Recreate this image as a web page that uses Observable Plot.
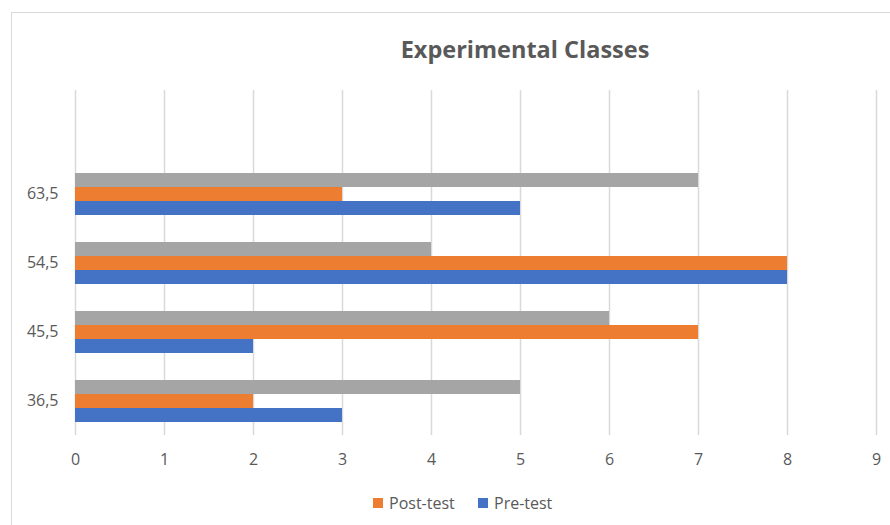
<!DOCTYPE html>
<html>
<head>
<meta charset="utf-8">
<script src="https://cdn.jsdelivr.net/npm/d3@7"></script>
<script src="https://cdn.jsdelivr.net/npm/@observablehq/plot@0.6"></script>
<style>
  html, body { margin: 0; padding: 0; background: #fff; }
  #wrap { position: relative; width: 890px; height: 525px; overflow: hidden; font-family: "Open Sans", sans-serif; }
  #frame { position: absolute; left: 11px; top: 12px; width: 1000px; height: 600px; border-left: 1.5px solid #d9d9d9; border-top: 1.5px solid #d9d9d9; box-sizing: border-box; }
  #title { position: absolute; top: 38px; left: 325px; width: 400px; text-align: center; font-size: 23.5px; line-height: 1; font-weight: bold; color: #595959; }
  #chart { position: absolute; left: 0; top: 0; }
  #legend { position: absolute; top: 493px; left: 0; width: 890px; height: 22px; font-size: 16px; color: #595959; }
  .item { position: absolute; top: 0; display: flex; align-items: center; line-height: 20px; }
  .sw { width: 10px; height: 10px; margin-right: 6px; }
</style>
</head>
<body>
<div id="wrap">
  <div id="frame"></div>
  <div id="chart"></div>
  <div id="title">Experimental Classes</div>
  <div id="legend"></div>
</div>
<script>
// Categories from top to bottom (first entry is an empty category row)
const categories = [" ", "63,5", "54,5", "45,5", "36,5"];
const dataCategories = ["63,5", "54,5", "45,5", "36,5"];
const seriesNames = ["Series3", "Post-test", "Pre-test"];
const seriesColors = ["#A5A5A5", "#ED7D31", "#4472C4"];
const series3 = [7, 4, 6, 5];
const postTest = [3, 8, 7, 2];
const preTest = [5, 8, 2, 3];
const xTicks = [0, 1, 2, 3, 4, 5, 6, 7, 8, 9];
const legendItems = ["Post-test", "Pre-test"];

const table = dataCategories.flatMap((c, i) => [
  {cat: c, series: "Series3", value: series3[i]},
  {cat: c, series: "Post-test", value: postTest[i]},
  {cat: c, series: "Pre-test", value: preTest[i]}
]);
// gridlines in every category row (including the empty top row)
const gridRows = categories.flatMap(c => xTicks.map(t => ({cat: c, x: t})));

const chart = Plot.plot({
  width: 890,
  height: 480,
  marginTop: 88,
  marginBottom: 43,
  marginLeft: 75,
  marginRight: 14,
  style: {fontFamily: "'Open Sans', sans-serif", fontSize: "16px", color: "#595959", background: "transparent"},
  x: {domain: [0, 9], axis: null, label: null},
  fy: {domain: categories, padding: 0, axis: null, label: null},
  y: {domain: seriesNames, paddingInner: 0, paddingOuter: 0.914, axis: null},
  color: {domain: seriesNames, range: seriesColors},
  marks: [
    Plot.ruleX(gridRows, {x: "x", fy: "cat", stroke: "#d9d9d9", strokeWidth: 1.5}),
    Plot.barX(table, {x: "value", y: "series", fy: "cat", fill: "series"}),
    Plot.axisX(xTicks, {tickSize: 0, tickPadding: 18, fill: "#595959", fontSize: 16, label: null}),
    Plot.axisFy({anchor: "left", tickSize: 0, tickPadding: 17, label: null, fill: "#595959", fontSize: 16})
  ]
});
document.getElementById("chart").appendChild(chart);

const legend = document.getElementById("legend");
const legendX = [373, 478];
legendItems.forEach((name, i) => {
  const it = document.createElement("div");
  it.className = "item";
  it.style.left = legendX[i] + "px";
  const sw = document.createElement("div");
  sw.className = "sw";
  sw.style.background = seriesColors[seriesNames.indexOf(name)];
  const t = document.createElement("span");
  t.textContent = name;
  it.appendChild(sw);
  it.appendChild(t);
  legend.appendChild(it);
});
</script>
</body>
</html>
